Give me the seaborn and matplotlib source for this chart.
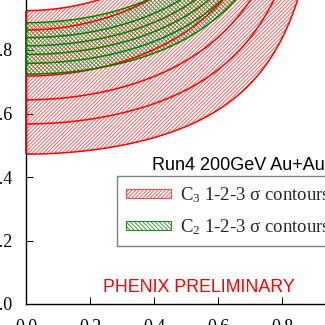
import numpy as np
import matplotlib
matplotlib.use("Agg")
import matplotlib.pyplot as plt
import seaborn as sns
from matplotlib.patches import Patch

# contour lines, given by where they meet the left axis (x = 0)
c3_edges = [0.472, 0.567, 0.643, 0.718, 0.863, 0.924]
c2_edges = [0.724, 0.758, 0.786, 0.813, 0.839, 0.886]

x_ticks = [0.0, 0.2, 0.4, 0.6, 0.8]
y_ticks = [0.0, 0.2, 0.4, 0.6, 0.8]

legend_labels = ["C$_3$ 1-2-3 σ contours", "C$_2$ 1-2-3 σ contours"]
title_text = "Run4 200GeV Au+Au"
stamp_text = "PHENIX PRELIMINARY"

sns.set_style("ticks")
plt.rcParams['font.family'] = ['Liberation Serif', 'DejaVu Serif']
plt.rcParams['mathtext.fontset'] = 'custom'
plt.rcParams['mathtext.rm'] = 'Liberation Serif'
plt.rcParams['mathtext.it'] = 'Liberation Serif:italic'
plt.rcParams['hatch.linewidth'] = 0.6

RED_HATCH = '#ff4a4a'
GREEN_HATCH = '#1f8a1f'
RED_PAT = '/' * 9
GREEN_PAT = '\\' * 8


def lam2(p, f):
    # two-particle intercept for core fraction f and partial coherence p
    return f ** 2 * (1 - p ** 2)


def lam3(p, f):
    # three-particle intercept
    return 2 * f ** 3 * (1 - p) ** 2 * (1 + 2 * p) + 3 * f ** 2 * (1 - p ** 2)


p_grid, f_grid = np.meshgrid(np.linspace(0, 1, 600), np.linspace(0, 1.05, 600))
L2 = lam2(p_grid, f_grid)
L3 = lam3(p_grid, f_grid)
lev2 = np.sort(lam2(0.0, np.array(c2_edges)))
lev3 = np.sort(lam3(0.0, np.array(c3_edges)))

fig = plt.figure(figsize=(3.25, 3.25), dpi=100)
ax = fig.add_axes([26 / 325, 21 / 325, 320 / 325, 317.5 / 325])

cs3 = ax.contourf(p_grid, f_grid, L3, levels=[lev3[0], lev3[-1]],
                  colors='none', hatches=[RED_PAT], zorder=1)
cs3.set_edgecolor(RED_HATCH)
cs3.set_linewidth(0)
cs2 = ax.contourf(p_grid, f_grid, L2, levels=[lev2[0], lev2[-1]],
                  colors='none', hatches=[GREEN_PAT], zorder=1.1)
cs2.set_edgecolor(GREEN_HATCH)
cs2.set_linewidth(0)

ax.contour(p_grid, f_grid, L3, levels=lev3, colors='#ff0000',
           linewidths=1.1, zorder=2)
ax.contour(p_grid, f_grid, L2, levels=lev2, colors='#008000',
           linewidths=1.1, zorder=2.1)

# band edges along the left axis
ax.vlines(0, min(c3_edges), max(c3_edges), color='#ff0000', lw=1.4,
          clip_on=False, zorder=4)
ax.vlines(0, min(c2_edges), max(c2_edges), color='#008000', lw=1.4,
          clip_on=False, zorder=4.1)

ax.set_xlim(0, 1)
ax.set_ylim(0, 1)
ax.set_xticks(x_ticks)
ax.set_yticks(y_ticks)
ax.set_xticklabels([f"{v:.1f}" for v in x_ticks])
ax.set_yticklabels([f"{v:.1f}" for v in y_ticks])
ax.tick_params(direction='in', length=5, width=0.7, labelsize=13,
               colors='black')
ax.tick_params(axis='y', pad=9.5)
ax.tick_params(axis='x', pad=10.5)
for side in ['top', 'right']:
    ax.spines[side].set_visible(False)
for side in ['left', 'bottom']:
    ax.spines[side].set_color('black')
    ax.spines[side].set_linewidth(1.0)
ax.grid(False)

ax.text(0.394, 0.422, title_text, family=['Liberation Sans', 'DejaVu Sans'],
        fontsize=13, ha='left', va='baseline', color='black')
ax.text(0.539, 0.038, stamp_text, family=['Liberation Sans', 'DejaVu Sans'],
        fontsize=12.8, ha='center', va='baseline', color='#ff0000')

handles = [
    Patch(facecolor='none', edgecolor=RED_HATCH, hatch=RED_PAT, lw=0.8),
    Patch(facecolor='none', edgecolor=GREEN_HATCH, hatch=GREEN_PAT, lw=0.8),
]
leg = fig.legend(handles, legend_labels, loc='upper left',
                 bbox_to_anchor=(117 / 325, 1 - 176 / 325), fontsize=13.5,
                 frameon=True, fancybox=False, framealpha=1,
                 edgecolor='#808080', handlelength=2.4, handleheight=0.4,
                 handletextpad=0.45, borderpad=0.5, labelspacing=0.65,
                 borderaxespad=0)
leg.get_frame().set_linewidth(1.0)

fig.savefig("out.png", dpi=100)
